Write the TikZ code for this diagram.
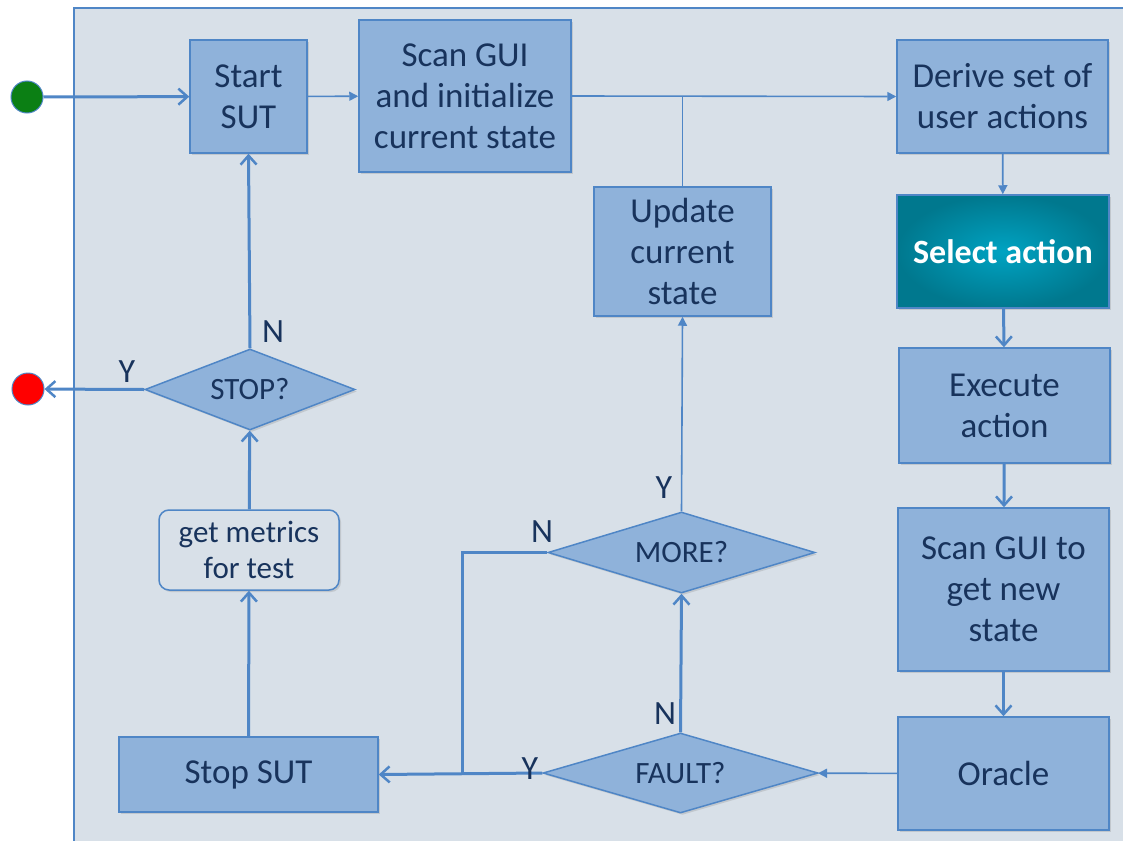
\documentclass[tikz,border=0pt]{standalone}
\usepackage{fontspec}
\setmainfont{Carlito}
\usetikzlibrary{arrows.meta,shapes.geometric,shadows,calc}
\definecolor{panelbg}{HTML}{D8E0E8}
\definecolor{edgeblue}{HTML}{4F86C6}
\definecolor{boxfill}{HTML}{8FB2DA}
\definecolor{txtblue}{HTML}{18335C}
\definecolor{tealin}{HTML}{00A3C2}
\definecolor{tealout}{HTML}{00788E}
\definecolor{startgreen}{HTML}{0B7F14}
\tikzset{
  boxshadow/.style={drop shadow={opacity=0.25,shadow xshift=2pt,shadow yshift=-2pt}},
  procbox/.style={draw=edgeblue,line width=1.5pt,fill=boxfill,text=txtblue,align=center,
    font=\fontsize{35}{41}\selectfont,inner sep=0pt,boxshadow},
  decbox/.style={diamond,draw=edgeblue,line width=1.5pt,fill=boxfill,text=txtblue,
    font=\fontsize{31}{34}\selectfont,inner sep=0pt,aspect=2.6,boxshadow},
  metricbox/.style={draw=edgeblue,line width=1.5pt,fill=panelbg,rounded corners=10pt,
    text=txtblue,align=center,font=\fontsize{31}{36}\selectfont,inner sep=0pt,boxshadow},
  thickarrow/.style={draw=edgeblue,line width=3pt,-{Straight Barb[length=9pt,width=16pt,line width=2.5pt]}},
  thickline/.style={draw=edgeblue,line width=3pt},
  thinarrow/.style={draw=edgeblue,line width=1.6pt,-{Triangle[length=9pt,width=9pt]}},
  thinline/.style={draw=edgeblue,line width=1.6pt},
  lbl/.style={text=txtblue,font=\fontsize{34}{36}\selectfont,inner sep=0pt},
  dot/.style={circle,minimum size=32pt,inner sep=0pt,draw=edgeblue,line width=1pt}
}
\begin{document}
\begin{tikzpicture}[x=1pt,y=-1pt]
\useasboundingbox (0,0) rectangle (1123,840);
\begin{scope}
\clip (0,0) rectangle (1123,840);
\fill[panelbg] (74,8) rectangle (1140,860);
\draw[edgeblue,line width=2pt] (74,860) -- (74,8) -- (1140,8);
\end{scope}

% process boxes
\node[procbox,minimum width=117pt,minimum height=113pt] (start) at (248.5,96.5) {Start\\SUT};
\node[procbox,minimum width=212pt,minimum height=152pt] (scan) at (465,96) {Scan GUI\\and initialize\\current state};
\node[procbox,minimum width=211pt,minimum height=113pt] (derive) at (1002.5,96.5) {Derive set of\\user actions};
\node[procbox,minimum width=177pt,minimum height=129pt] (update) at (682.5,251.5) {Update\\current\\state};
\node[draw=edgeblue,line width=1.5pt,inner color=tealin,outer color=tealout,text=white,
  font=\fontsize{34}{41}\selectfont\bfseries,minimum width=212pt,minimum height=113pt,inner sep=0pt,boxshadow]
  (select) at (1003,251.5) {Select action};
\node[procbox,minimum width=211pt,minimum height=115pt] (exec) at (1004.5,405.5) {Execute\\action};
\node[procbox,minimum width=211pt,minimum height=163pt] (scan2) at (1003.5,589.5) {Scan GUI to\\get new\\state};
\node[procbox,minimum width=211pt,minimum height=113pt] (oracle) at (1003.5,773.5) {Oracle};
\node[procbox,minimum width=259pt,minimum height=75pt] (stopsut) at (248.5,774.5) {Stop SUT};
\node[metricbox,minimum width=180pt,minimum height=80pt] (metrics) at (249,550) {get metrics\\for test};

% decisions
\node[decbox,minimum width=210pt,minimum height=81pt] (stopq) at (250,389.5) {STOP?};
\node[decbox,minimum width=267pt,minimum height=81pt] (more) at (681.5,552.5) {MORE?};
\node[decbox,minimum width=275pt,minimum height=80pt] (fault) at (680.5,773) {FAULT?};

% terminals
\node[dot,fill=startgreen] (green) at (27,97) {};
\node[dot,fill=red] (redd) at (28,389) {};

% connectors
\draw[thickarrow] (green) -- (start);
\draw[thinarrow] (start) -- (scan);
\draw[thinarrow] (scan.east) -- (derive.west);
\coordinate (join) at (update.north |- scan.east);
\draw[thinline] (update.north) -- (join);
\draw[thinarrow] (derive) -- (select);
\draw[thickarrow] (select) -- (exec);
\draw[thickarrow] (exec) -- (scan2);
\draw[thickarrow] (scan2) -- (oracle);
\draw[thinarrow] (oracle) -- (fault);
\draw[thickarrow] (fault.west) -- (stopsut.east);
\draw[thickarrow] (fault.north) -- (more.south);
\coordinate (mbend) at (462,552.5);
\coordinate (mjoin) at (462,773);
\draw[thickline] (more.west) -- (mbend) -- (mjoin);
\draw[thinarrow] (more.north) -- (update.south);
\draw[thickarrow] (stopsut) -- (metrics);
\draw[thickarrow] (metrics) -- (stopq);
\draw[thickarrow] (stopq.north) -- (start.south);
\draw[thickarrow] (stopq.west) -- (redd);

% labels
\node[lbl] (ly1) at (530,769) {Y};
\node[lbl] (ln1) at (665,714) {N};
\node[lbl] (ln2) at (542,532) {N};
\node[lbl] (ly2) at (664,488) {Y};
\node[lbl] (ln3) at (273,332) {N};
\node[lbl] (ly3) at (127,372) {Y};
\end{tikzpicture}
\end{document}
